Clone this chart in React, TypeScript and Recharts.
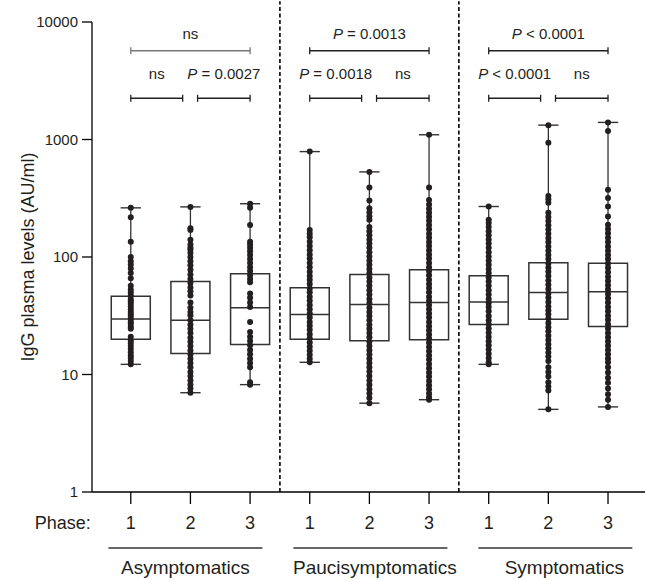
import React from 'react';
import {
  ComposedChart,
  ReferenceArea,
  ReferenceLine,
  Scatter,
  XAxis,
  YAxis,
} from 'recharts';

// Groups and phases along the x axis (3 phases per group)
const groups = ['Asymptomatics', 'Paucisymptomatics', 'Symptomatics'];
const phases = ['1', '2', '3'];
const yTicks = [1, 10, 100, 1000, 10000];

// Box statistics per box (Asym 1-3, Pauci 1-3, Sym 1-3), AU/ml
const boxMin = [12.2, 7.0, 8.2, 12.7, 5.7, 6.1, 12.2, 5.05, 5.3];
const boxQ1 = [20.0, 15.1, 18.0, 20.0, 19.4, 19.8, 26.6, 29.5, 25.6];
const boxMedian = [29.7, 28.9, 36.9, 32.4, 39.4, 41.0, 41.5, 49.9, 50.5];
const boxQ3 = [46.4, 62, 72, 54.7, 71, 77.9, 69.2, 89.4, 88.3];
const boxMax = [262, 267, 284, 789, 530, 1097, 269, 1325, 1398];

// Individual values
const asym1 = [262, 218, 135, 100, 92, 86, 80, 73, 66, 57, 53, 50, 47, 44, 42, 40, 38, 36, 34, 32.5, 31, 29.5, 28, 27, 25.5, 24.5, 21, 19.5, 18.5, 17.5, 16.5, 15.5, 14.5, 13.8, 13, 12.2];
const asym2 = [267, 176, 170, 140, 128, 120, 115, 108, 100, 92, 85, 78, 71, 65, 60, 55, 51, 47, 41, 37, 34, 32, 29, 26.5, 24.5, 22.5, 20.5, 19, 17.5, 16, 14.8, 13.6, 12.5, 11.5, 10.5, 9.7, 8.9, 8.2, 7.6, 7.0];
const asym3 = [284, 262, 187, 135, 128, 120, 112, 104, 96, 89, 82, 76, 70, 65, 61, 49, 45, 41, 37.5, 28, 23, 21, 19.3, 17.7, 16.2, 14.9, 13.6, 12.5, 11.5, 8.6, 8.2];
const pauci1 = [789, 170, 158, 147, 135, 124, 114, 105, 97, 89, 82, 75, 69, 64, 59, 54, 50, 46, 42.5, 39, 36, 33, 30.5, 28, 26, 24, 22, 20.3, 18.7, 17.2, 15.9, 14.7, 13.6, 12.7];
const pauci2 = [530, 390, 303, 260, 240, 222, 207, 180, 166, 153, 141, 130, 120, 110, 101, 93, 86, 79, 73, 67, 62, 57, 52, 48, 44, 40.5, 37, 34, 31.5, 29, 26.5, 24.5, 22.5, 20.7, 19, 17.5, 16.1, 14.8, 13.6, 12.5, 11.5, 10.6, 9.7, 8.9, 8.2, 7.5, 6.9, 6.3, 5.7];
const pauci3 = [1097, 390, 305, 280, 258, 238, 220, 203, 187, 172, 158, 146, 134, 124, 114, 105, 97, 89, 82, 76, 70, 64, 59, 54.5, 50, 46, 42.5, 39, 36, 33, 30.5, 28, 25.8, 23.8, 21.9, 20.2, 18.6, 17.1, 15.8, 14.5, 13.4, 12.3, 11.3, 10.4, 9.6, 8.8, 8.1, 7.5, 6.9, 6.4, 6.1];
const sym1 = [269, 207, 195, 180, 166, 153, 141, 130, 120, 110, 101, 93, 86, 79, 73, 67, 62, 57, 52, 48, 44, 40.5, 37.5, 34.5, 31.5, 29, 26.8, 24.6, 22.7, 20.9, 19.2, 17.7, 16.3, 15, 13.8, 12.7, 12.2];
const sym2 = [1325, 940, 330, 310, 290, 238, 219, 202, 186, 171, 158, 145, 134, 123, 113, 104, 96, 88, 81, 75, 69, 63, 58, 53.5, 49, 45, 41.5, 38, 35, 32.5, 30, 27.5, 25.3, 23.3, 21.4, 19.7, 18.1, 16.7, 15.4, 14.2, 13, 11.5, 10.5, 9.6, 8.6, 7.9, 7.3, 5.05];
const sym3 = [1398, 1180, 374, 318, 269, 221, 188, 173, 159, 146, 134, 123, 113, 104, 96, 88, 81, 74, 68, 62.5, 57.5, 53, 48.5, 44.5, 41, 37.5, 34.5, 31.7, 29.2, 26.8, 24.6, 22.6, 20.8, 19.1, 17.6, 16.2, 14.9, 13.7, 12.7, 11.5, 10.4, 9.4, 8.5, 7.6, 6.8, 6.1, 5.3];
const dotValues = [asym1, asym2, asym3, pauci1, pauci2, pauci3, sym1, sym2, sym3];

// Pairwise comparisons: group index, phase a -> phase b, result
const compGroup = [0, 0, 0, 1, 1, 1, 2, 2, 2];
const compFrom = [1, 1, 2, 1, 1, 2, 1, 1, 2];
const compTo = [3, 2, 3, 3, 2, 3, 3, 2, 3];
const compLabel = ['ns', 'ns', 'P = 0.0027', 'P = 0.0013', 'P = 0.0018', 'ns', 'P < 0.0001', 'P < 0.0001', 'ns'];

const ink = '#231f20';
const font = '"Liberation Sans", Arial, Helvetica, sans-serif';

const dotRows = dotValues.flatMap((vals, i) => vals.map((v) => ({ x: i + 1, y: v })));

const boxes = boxMedian.map((m, i) => ({
  x: i + 1,
  min: boxMin[i],
  q1: boxQ1[i],
  median: m,
  q3: boxQ3[i],
  max: boxMax[i],
}));

const comparisons = compLabel.map((label, i) => {
  const a = compGroup[i] * 3 + compFrom[i];
  const b = compGroup[i] * 3 + compTo[i];
  const wide = compTo[i] - compFrom[i] === 2;
  return {
    x1: compFrom[i] === 2 ? a + 0.12 : a,
    x2: compTo[i] === 2 ? b - 0.13 : b,
    y: wide ? 5700 : 2240,
    raise: wide ? 12 : 19,
    label,
    grey: wide && compGroup[i] === 0,
  };
});

const Dot = (props: any) => <circle cx={props.cx} cy={props.cy} r={3} fill={ink} />;

const Bracket = (props: any) => {
  const { x1, y1, x2, text, raise, color } = props;
  const italic = text.startsWith('P');
  return (
    <g>
      <line x1={x1} y1={y1} x2={x2} y2={y1} stroke={color} strokeWidth={1.5} />
      <line x1={x1} y1={y1 - 3.5} x2={x1} y2={y1 + 3.5} stroke={color} strokeWidth={1.3} />
      <line x1={x2} y1={y1 - 3.5} x2={x2} y2={y1 + 3.5} stroke={color} strokeWidth={1.3} />
      <text x={(x1 + x2) / 2} y={y1 - raise} textAnchor="middle" fontSize={15} fill={ink} fontFamily={font}>
        {italic ? (
          <>
            <tspan fontStyle="italic">P</tspan>
            <tspan>{text.slice(1)}</tspan>
          </>
        ) : (
          text
        )}
      </text>
    </g>
  );
};

// phase number under each tick; the middle tick of a group also carries the group underline + name
const PhaseTick = (props: any) => {
  const { x, y, payload } = props;
  const idx = Math.round(payload.value) - 1;
  const g = Math.floor(idx / 3);
  const lineMid = x - 5 + 6 * g;
  return (
    <g fontFamily={font} fill={ink}>
      <text x={x} y={y + 23} textAnchor="middle" fontSize={18}>
        {phases[idx % 3]}
      </text>
      {idx === 0 && (
        <text x={x - 40} y={y + 23} textAnchor="end" fontSize={18}>
          Phase:
        </text>
      )}
      {idx % 3 === 1 && (
        <>
          <line x1={lineMid - 77} y1={y + 42} x2={lineMid + 77} y2={y + 42} stroke="#333" strokeWidth={1.5} />
          <text x={x - 5 + 10.5 * g} y={y + 68} textAnchor="middle" fontSize={19}>
            {groups[g]}
          </text>
        </>
      )}
    </g>
  );
};

export default function App() {
  return (
    <div style={{ position: 'absolute', left: 0, top: 0, width: 645, height: 580, background: '#fff', fontFamily: font }}>
      <ComposedChart width={645} height={580} margin={{ top: 22, right: 0, bottom: 0, left: 0 }}>
        <XAxis
          dataKey="x"
          type="number"
          domain={[0.35, 9.62]}
          ticks={[1, 2, 3, 4, 5, 6, 7, 8, 9]}
          allowDataOverflow
          height={88}
          tickSize={12}
          axisLine={{ stroke: '#000', strokeWidth: 1.3 }}
          tickLine={{ stroke: '#000', strokeWidth: 1.3 }}
          tick={<PhaseTick />}
          interval={0}
        />
        <YAxis
          dataKey="y"
          type="number"
          scale="log"
          domain={[1, 10000]}
          ticks={yTicks}
          allowDataOverflow
          width={92}
          tickSize={10}
          tickMargin={4}
          axisLine={{ stroke: '#000', strokeWidth: 1.3 }}
          tickLine={{ stroke: '#000', strokeWidth: 1.3 }}
          tick={{ fontSize: 15, fill: ink, fontFamily: font }}
          label={{
            value: 'IgG plasma levels (AU/ml)',
            angle: -90,
            position: 'insideLeft',
            offset: 28,
            style: { textAnchor: 'middle', fontSize: 18, fill: ink, fontFamily: font },
          }}
        />

        {[3.5, 6.5].map((sx) => (
          <ReferenceLine
            key={`sep-${sx}`}
            segment={[{ x: sx, y: 1 }, { x: sx, y: 15000 }]}
            stroke="#000"
            strokeWidth={1.6}
            strokeDasharray="4 2.5"
            ifOverflow="visible"
          />
        ))}

        {boxes.map((b) => (
          <ReferenceLine
            key={`wu-${b.x}`}
            segment={[{ x: b.x, y: b.q3 }, { x: b.x, y: b.max }]}
            stroke="#333"
            strokeWidth={1.3}
            ifOverflow="visible"
          />
        ))}
        {boxes.map((b) => (
          <ReferenceLine
            key={`wl-${b.x}`}
            segment={[{ x: b.x, y: b.min }, { x: b.x, y: b.q1 }]}
            stroke="#333"
            strokeWidth={1.3}
            ifOverflow="visible"
          />
        ))}
        {boxes.map((b) => (
          <ReferenceLine
            key={`cu-${b.x}`}
            segment={[{ x: b.x - 0.17, y: b.max }, { x: b.x + 0.17, y: b.max }]}
            stroke="#333"
            strokeWidth={1.4}
            ifOverflow="visible"
          />
        ))}
        {boxes.map((b) => (
          <ReferenceLine
            key={`cl-${b.x}`}
            segment={[{ x: b.x - 0.17, y: b.min }, { x: b.x + 0.17, y: b.min }]}
            stroke="#333"
            strokeWidth={1.4}
            ifOverflow="visible"
          />
        ))}
        {boxes.map((b) => (
          <ReferenceArea
            key={`box-${b.x}`}
            x1={b.x - 0.327}
            x2={b.x + 0.327}
            y1={b.q1}
            y2={b.q3}
            fill="none"
            stroke="#333"
            strokeWidth={1.5}
            ifOverflow="visible"
          />
        ))}
        {boxes.map((b) => (
          <ReferenceLine
            key={`med-${b.x}`}
            segment={[{ x: b.x - 0.327, y: b.median }, { x: b.x + 0.327, y: b.median }]}
            stroke="#333"
            strokeWidth={1.5}
            ifOverflow="visible"
          />
        ))}

        {comparisons.map((c, i) => (
          <ReferenceLine
            key={`cmp-${i}`}
            segment={[{ x: c.x1, y: c.y }, { x: c.x2, y: c.y }]}
            ifOverflow="visible"
            shape={(p: any) => (
              <Bracket {...p} text={c.label} raise={c.raise} color={c.grey ? '#777' : ink} />
            )}
          />
        ))}

        <Scatter data={dotRows} dataKey="y" shape={<Dot />} isAnimationActive={false} />
      </ComposedChart>
    </div>
  );
}
